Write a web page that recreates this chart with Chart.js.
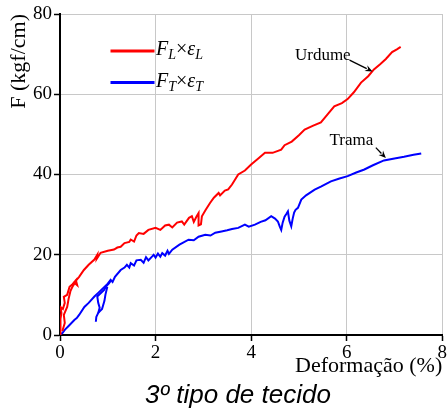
<!DOCTYPE html>
<html>
<head>
<meta charset="utf-8">
<script src="https://cdn.jsdelivr.net/npm/chart.js@4.4.1/dist/chart.umd.min.js"></script>
<style>
  html, body { margin: 0; padding: 0; background: #fff; }
  #wrap { width: 448px; height: 410px; position: relative; }
</style>
</head>
<body>
<div id="wrap"><canvas id="c" width="448" height="410"></canvas></div>
<script>
// ---- Data ----
// Urdume (F_L x eps_L), main curve
const xL = [0,0.02,0.0,0.03,0.01,0.06,0.1,0.08,0.15,0.2,0.25,0.3,0.27,0.33,0.4,0.5,0.6,0.72,0.78,0.77,0.85,1.0,1.13,1.2,1.27,1.35,1.45,1.48,1.55,1.6,1.65,1.75,1.85,2.0,2.1,2.2,2.28,2.35,2.45,2.55,2.6,2.7,2.76,2.8,2.86,2.9,2.9,2.95,2.97,3.05,3.14,3.22,3.32,3.35,3.45,3.52,3.6,3.73,3.87,4.0,4.15,4.29,4.45,4.63,4.7,4.85,5.0,5.12,5.3,5.46,5.6,5.74,5.9,6.02,6.15,6.3,6.45,6.57,6.7,6.82,6.95,7.05,7.13];
const yL = [0,2,4,5.5,7,6.5,8,9.5,10,12,12.5,13.2,12.2,13.5,14.5,16.2,17.5,18.8,20,19,20.5,21,21.3,21.8,22,22.9,23.2,23.8,23.3,24.8,25.4,25.2,26.2,26.7,26.2,27.3,27.5,26.8,28,28.3,27.5,29.2,29.6,28.2,29.6,30.4,27.3,27.6,29.6,31.2,32.9,34.2,35.4,34.8,36,36.3,37.5,40,41,42.5,44,45.4,45.4,46.2,47.3,48.2,49.8,51.2,52.2,53,55,57,57.8,58.8,60.5,62.9,64.5,66.2,67.5,68.8,70.5,71.2,71.8];
// Urdume, second trace near the origin
const xLb = [0.05,0.1,0.08,0.15,0.18,0.22,0.3,0.36,0.33];
const yLb = [1,3,5,7,9,11,13,12.4,13.8];
// Trama (F_T x eps_T), main curve
const xT = [0,0.05,0.1,0.2,0.3,0.35,0.4,0.51,0.6,0.72,0.8,0.93,1.0,1.06,1.1,1.15,1.27,1.35,1.4,1.45,1.48,1.55,1.6,1.69,1.75,1.8,1.85,1.93,1.96,2.0,2.05,2.1,2.14,2.2,2.25,2.28,2.35,2.5,2.69,2.8,2.9,3.04,3.15,3.25,3.38,3.5,3.6,3.73,3.87,3.95,4.08,4.2,4.3,4.42,4.5,4.56,4.6,4.63,4.66,4.7,4.74,4.77,4.8,4.84,4.87,4.9,4.93,4.98,5.05,5.15,5.33,5.46,5.67,5.85,6.02,6.2,6.37,6.55,6.78,7.0,7.2,7.4,7.56];
const yT = [0,0.5,1.3,2.5,3.75,4.2,5,7,8,9.6,10.5,12,12.8,13.75,13.2,14.5,16.2,16.8,17.5,16.8,17.9,17.3,18.6,18.75,18,19.4,18.6,19.6,20,19.3,20.3,19.5,20.4,19.8,21,20.2,21.25,22.5,23.75,23.6,24.5,25,24.8,25.5,25.8,26.1,26.4,26.7,27.5,27,27.5,28.2,28.6,29.6,29,28.3,27,26.2,28,29.5,30.2,30.8,28.5,27.1,29,30.5,31.2,31.7,33.75,34.8,36.25,37,38.3,39,39.6,40.5,41.25,42.3,43.5,44,44.4,44.9,45.25];
// Trama, second trace starting near 0.75 %
const xTb = [0.75,0.76,0.8,0.83,0.8,0.78,0.85,0.92,0.97,1.02,1.06];
const yTb = [3.3,4.5,5.5,6.8,8,9.6,10.4,11.2,12.2,12.8,13.5];
const xTc = [0.8,0.88,0.93,0.95,0.99];
const yTc = [5.5,6.5,8.5,10,12];
// Axis ticks
const xTicks = [0,2,4,6,8];
const yTicks = [0,20,40,60,80];
// Annotations: [label, textX, textY, arrowFromX, arrowFromY, arrowToX, arrowToY]
const notes = [
  ['Urdume', 5.5, 69.7, 6.06, 68.5, 6.54, 65.7],
  ['Trama', 6.1, 48.5, 6.61, 46.7, 6.82, 44.1]
];

const zip = (xs, ys) => xs.map((x, i) => ({x: x, y: ys[i]}));
const RED = '#ff0000', BLUE = '#0000ff';
const SERIF = '"Liberation Serif", "Times New Roman", serif';

const lineDs = (data, color) => ({
  data: data, borderColor: color, backgroundColor: color,
  showLine: true, pointRadius: 0, borderWidth: 2, tension: 0, fill: false
});

const extras = {
  id: 'extras',
  afterDraw(chart) {
    const ctx = chart.ctx, ca = chart.chartArea;
    const sx = chart.scales.x, sy = chart.scales.y;
    ctx.save();
    // Legend
    const items = [[RED, 'L', 37], [BLUE, 'T', 68.5]];
    items.forEach(([col, sub, dy]) => {
      const y = ca.top + dy;
      ctx.strokeStyle = col; ctx.lineWidth = 3;
      ctx.beginPath(); ctx.moveTo(ca.left + 50.5, y); ctx.lineTo(ca.left + 94.5, y); ctx.stroke();
      let x = ca.left + 96;
      const base = y + 4;
      ctx.fillStyle = '#000'; ctx.textBaseline = 'alphabetic'; ctx.textAlign = 'left';
      const put = (t, font, yy) => { ctx.font = font; ctx.fillText(t, x, yy); x += ctx.measureText(t).width; };
      put('F', 'italic 20px ' + SERIF, base);
      put(sub, 'italic 14px ' + SERIF, base + 4);
      put('\u00d7', '20px ' + SERIF, base);
      put('\u03b5', 'italic 20px ' + SERIF, base);
      put(sub, 'italic 14px ' + SERIF, base + 4);
    });
    // Annotations with arrows
    notes.forEach(([t, tx, ty, fx, fy, ax, ay]) => {
      ctx.fillStyle = '#000'; ctx.font = '17px ' + SERIF;
      ctx.textAlign = 'center'; ctx.textBaseline = 'middle';
      ctx.fillText(t, sx.getPixelForValue(tx), sy.getPixelForValue(ty));
      const x1 = sx.getPixelForValue(fx), y1 = sy.getPixelForValue(fy);
      const x2 = sx.getPixelForValue(ax), y2 = sy.getPixelForValue(ay);
      const ang = Math.atan2(y2 - y1, x2 - x1), L = 8, W = 0.4;
      ctx.strokeStyle = '#000'; ctx.lineWidth = 1.3;
      ctx.beginPath(); ctx.moveTo(x1, y1);
      ctx.lineTo(x2 - L * 0.8 * Math.cos(ang), y2 - L * 0.8 * Math.sin(ang)); ctx.stroke();
      ctx.beginPath(); ctx.moveTo(x2, y2);
      ctx.lineTo(x2 - L * Math.cos(ang - W), y2 - L * Math.sin(ang - W));
      ctx.lineTo(x2 - L * 0.6 * Math.cos(ang), y2 - L * 0.6 * Math.sin(ang));
      ctx.lineTo(x2 - L * Math.cos(ang + W), y2 - L * Math.sin(ang + W));
      ctx.closePath(); ctx.fill();
    });
    // Caption
    ctx.fillStyle = '#000';
    ctx.font = 'italic 26px "Liberation Sans", Arial, sans-serif';
    ctx.textAlign = 'center'; ctx.textBaseline = 'alphabetic';
    ctx.fillText('3\u00ba tipo de tecido', 238, 403);
    ctx.restore();
  }
};

new Chart(document.getElementById('c'), {
  type: 'scatter',
  data: {
    datasets: [
      lineDs(zip(xLb, yLb), RED),
      lineDs(zip(xL, yL), RED),
      lineDs(zip(xTb, yTb), BLUE),
      lineDs(zip(xTc, yTc), BLUE),
      lineDs(zip(xT, yT), BLUE)
    ]
  },
  options: {
    responsive: false,
    animation: false,
    events: [],
    layout: { padding: { left: 0, right: 3, top: 14, bottom: 0 } },
    plugins: { legend: { display: false }, tooltip: { enabled: false }, title: { display: false } },
    scales: {
      x: {
        type: 'linear', min: 0, max: 8,
        afterBuildTicks: s => { s.ticks = xTicks.map(v => ({value: v})); },
        afterFit: s => { s.height = 75; },
        grid: { color: '#c8c8c8', lineWidth: 1, tickColor: '#000', tickLength: 6, tickWidth: 1.5 },
        border: { color: '#000', width: 2 },
        ticks: { color: '#000', font: { family: SERIF, size: 19 }, padding: 1, maxRotation: 0 },
        title: { display: true, text: 'Deformação (%)', align: 'end', color: '#000',
                 font: { family: SERIF, size: 22 }, padding: { top: 31, bottom: 31 } }
      },
      y: {
        type: 'linear', min: 0, max: 80,
        afterBuildTicks: s => { s.ticks = yTicks.map(v => ({value: v})); },
        afterFit: s => { s.width = 60; },
        grid: { color: '#c8c8c8', lineWidth: 1, tickColor: '#000', tickLength: 6, tickWidth: 1.5 },
        border: { color: '#000', width: 2 },
        ticks: { color: '#000', font: { family: SERIF, size: 19 }, padding: 2 },
        title: { display: true, text: 'F (kgf/cm)', align: 'end', color: '#000',
                 font: { family: SERIF, size: 22 }, padding: { top: 6, bottom: 6 } }
      }
    }
  },
  plugins: [extras]
});
</script>
</body>
</html>
